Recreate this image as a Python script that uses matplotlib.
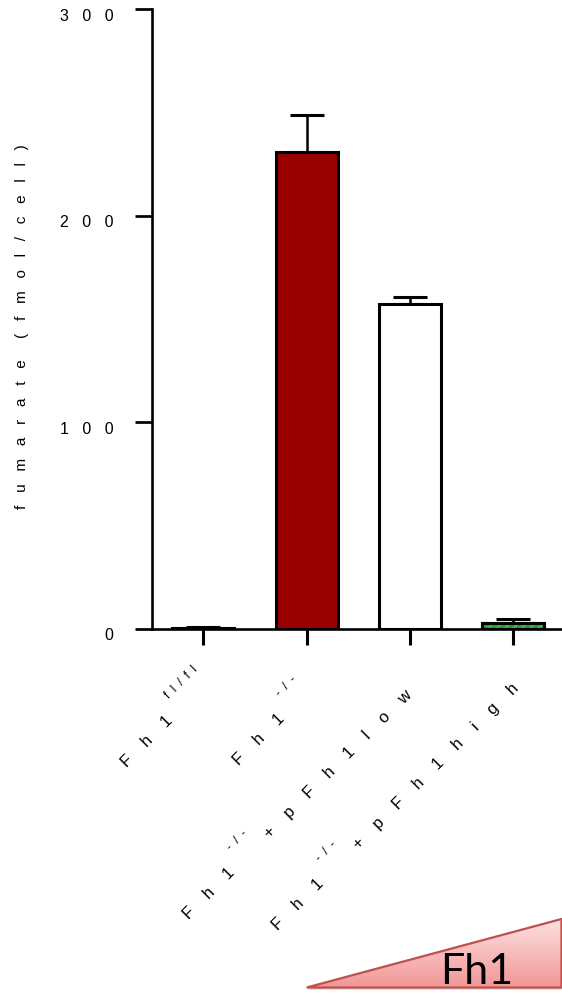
import numpy as np
import matplotlib
matplotlib.use('Agg')
import matplotlib.pyplot as plt
from matplotlib.patches import Polygon

plt.rcParams['font.family'] = ['Liberation Sans', 'DejaVu Sans']
plt.rcParams['hatch.linewidth'] = 1.5

W, H = 562, 993

# fumarate per cell, mean and error
groups = ['Fh1 fl/fl', 'Fh1 -/-', 'Fh1 -/- + pFh1 low', 'Fh1 -/- + pFh1 high']
fumarate = [0.5, 231.0, 157.2, 2.9]
fumarate_err = [0.2, 17.6, 3.6, 1.9]
bar_colors = ['white', '#990000', 'white', '#16b016']
yticks = [0, 100, 200, 300]

# tick label pieces: (text, superscript?)
label_parts = [
    [('Fh1', False), ('fl/fl', True)],
    [('Fh1', False), ('-/-', True)],
    [('Fh1', False), ('-/-', True), ('+ pFh1 low', False)],
    [('Fh1', False), ('-/-', True), ('+ pFh1 high', False)],
]
# where each label's baseline starts, pixels from its tick foot
label_start = [(-76, -139), (-68, -137), (-221, -291), (-235, -302)]


def spread(s, n=3, word_gap=None):
    gap = ' ' * n
    wg = gap if word_gap is None else ' ' * word_gap
    return wg.join(gap.join(w) for w in s.split())


fig = plt.figure(figsize=(W / 100, H / 100), dpi=100)
left = 151.7 / W
bottom = (H - 628.8) / H
ax = fig.add_axes([left, bottom, (564.9 - 151.7) / W, (628.8 - 9.3) / H])

x = np.arange(len(groups))
ax.errorbar(x, fumarate, yerr=[np.zeros(len(x)), fumarate_err], fmt='none',
            ecolor='black', elinewidth=1.8, capsize=12.2, capthick=2.2, zorder=2)
ax.bar(x, fumarate, width=0.6, color=bar_colors, edgecolor='black',
       linewidth=2.2, zorder=3)
# grey stripes on the green bar
ax.bar(x[3], fumarate[3], width=0.6, color='none', edgecolor='#8c8c8c',
       hatch='////', linewidth=0, zorder=3.1)
ax.bar(x[3], fumarate[3], width=0.6, color='none', edgecolor='black',
       linewidth=2.2, zorder=3.2)

ax.set_xlim(-0.5, 3.5)
ax.set_ylim(0, 300)
ax.set_xticks(x)
ax.set_yticks(yticks)
ax.spines[['top', 'right']].set_visible(False)
for side in ['left', 'bottom']:
    ax.spines[side].set_linewidth(1.9)
ax.tick_params(axis='x', length=11.5, width=2.2, direction='out', labelbottom=False)
ax.tick_params(axis='y', length=12.2, width=1.95, direction='out', labelleft=False)

for v in yticks:
    ax.annotate(spread(str(v), 3), xy=(0, v), xycoords=('axes fraction', 'data'),
                xytext=(-38.5, -7), textcoords='offset pixels',
                ha='right', va='center', fontsize=11.5, annotation_clip=False)

c45 = np.cos(np.radians(45))
for xi, parts, (sx, sy) in zip(x, label_parts, label_start):
    for k, (txt, sup) in enumerate(parts):
        if sup:
            along, lift, size, s = 78, 19, 8.5, spread(txt, 2)
        else:
            along, lift, size, s = (0 if k == 0 else 114), 0, 12, spread(txt, 4)
        ox = sx + along * c45 - lift * c45
        oy = sy + along * c45 + lift * c45
        ax.annotate(s, xy=(xi, 0), xycoords=('data', 'axes fraction'),
                    xytext=(ox, oy), textcoords='offset pixels',
                    rotation=45, rotation_mode='anchor', ha='left', va='baseline',
                    fontsize=size, annotation_clip=False)

fig.text(21.7 / W, 1 - 327 / H, spread('fumarate (fmol/cell)', 3, 5),
         rotation=90, ha='center', va='center', fontsize=11)

# rising wedge for Fh1 dose
ov = fig.add_axes([0, 0, 1, 1])
ov.patch.set_alpha(0)
ov.axis('off')
tri = np.array([[306.7, 987.5], [561.5, 919.0], [561.5, 987.5]])
shadow = Polygon(tri + [0, 2.2], closed=True, facecolor='#9a9a9a', edgecolor='none',
                 alpha=0.45, zorder=0)
ov.add_patch(shadow)
wedge = Polygon(tri, closed=True, facecolor='none', edgecolor='none')
ov.add_patch(wedge)
top_c = np.array([253, 226, 226]) / 255
bot_c = np.array([242, 150, 150]) / 255
t = np.linspace(0, 1, 128)[:, None, None]
grad = top_c * (1 - t) + bot_c * t
grad = np.repeat(grad, 2, axis=1)
im = ov.imshow(grad, extent=(306, 562, 988, 918), aspect='auto', origin='upper',
               interpolation='bilinear', zorder=1)
im.set_clip_path(wedge)
ov.add_patch(Polygon(tri, closed=True, facecolor='none', edgecolor='#c0504d',
                     linewidth=1.6, zorder=2))
ov.text(477, 984, 'Fh1', fontsize=31, family=['Lato', 'DejaVu Sans'],
        ha='center', va='baseline', color='black', zorder=3)
ov.set_xlim(0, W)
ov.set_ylim(H, 0)

fig.savefig('out.png', dpi=100)
